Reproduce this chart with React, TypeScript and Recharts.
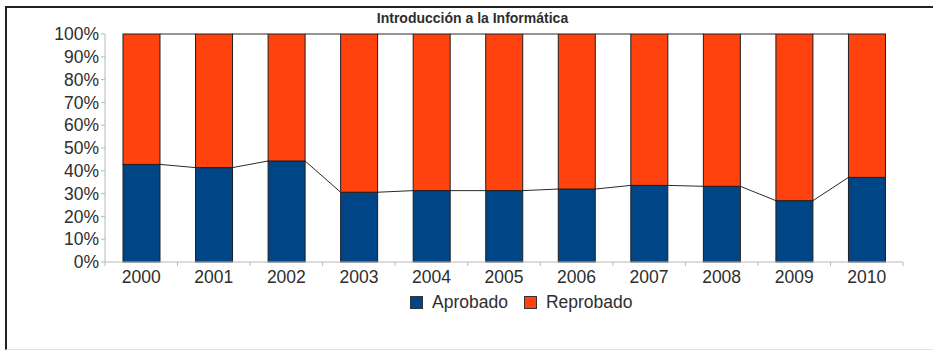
import { BarChart, Bar, XAxis, YAxis, Legend } from "recharts";

const years = ["2000", "2001", "2002", "2003", "2004", "2005", "2006", "2007", "2008", "2009", "2010"];
const aprobado = [42.8, 41.4, 44.3, 30.6, 31.3, 31.3, 32.0, 33.6, 33.2, 26.9, 37.1];
const reprobado = [57.2, 58.6, 55.7, 69.4, 68.7, 68.7, 68.0, 66.4, 66.8, 73.1, 62.9];
const yTicks = [0, 10, 20, 30, 40, 50, 60, 70, 80, 90, 100];

const TITLE = "Introducción a la Informática";
const BLUE = "#004586";
const ORANGE = "#ff420e";
const TEXT = "#2e2e2e";
const AXIS = "#b8b8b8";
const FONT = "'Liberation Sans', Arial, sans-serif";

const WIDTH = 933;
const HEIGHT = 351;
const MARGIN = { top: 34, right: 30, bottom: 59, left: 0 };
const Y_AXIS_W = 105;
const PLOT_W = WIDTH - MARGIN.left - MARGIN.right - Y_AXIS_W;
const STEP = PLOT_W / years.length;

const data = years.map((year, i) => ({
  year,
  aprobado: aprobado[i],
  reprobado: reprobado[i],
}));

type Key = "aprobado" | "reprobado";

// top of the stack for a series at a given index
const stackTop = (key: Key, i: number) =>
  key === "aprobado" ? aprobado[i] : aprobado[i] + reprobado[i];

// bar with a connection line to the next bar's top (like LibreOffice)
const makeShape = (key: Key) => (props: any) => {
  const { x, y, width, height, index, fill } = props;
  const value = key === "aprobado" ? aprobado[index] : reprobado[index];
  const pxPerUnit = value > 0 ? height / value : 0;
  const hasNext = index < years.length - 1;
  const yNext = hasNext ? y + (stackTop(key, index) - stackTop(key, index + 1)) * pxPerUnit : y;
  return (
    <g>
      <rect x={x} y={y} width={width} height={height} fill={fill} stroke="#1e1e1e" strokeWidth={1} />
      {hasNext && (
        <line x1={x + width} y1={y} x2={x + STEP} y2={yNext} stroke="#2a2a2a" strokeWidth={1} />
      )}
    </g>
  );
};

const XTick = (props: any) => {
  const { x, y, payload, index } = props;
  const axisY = y - 8;
  return (
    <g>
      <line x1={x - STEP / 2} y1={axisY} x2={x - STEP / 2} y2={axisY + 4} stroke={AXIS} />
      {index === years.length - 1 && (
        <line x1={x + STEP / 2} y1={axisY} x2={x + STEP / 2} y2={axisY + 4} stroke={AXIS} />
      )}
      <text x={x} y={y + 13} textAnchor="middle" fill={TEXT} fontSize={17.5} fontFamily={FONT}>
        {payload.value}
      </text>
    </g>
  );
};

const legendItems = [
  { name: "Aprobado", color: BLUE },
  { name: "Reprobado", color: ORANGE },
];

const renderLegend = () => (
  <div style={{ display: "flex", alignItems: "center", fontFamily: FONT, fontSize: 17.5, color: TEXT, lineHeight: "20px" }}>
    {legendItems.map((item, i) => (
      <div key={item.name} style={{ display: "flex", alignItems: "center", marginRight: i === 0 ? 16 : 0 }}>
        <span
          style={{
            display: "inline-block",
            width: 13,
            height: 13,
            boxSizing: "border-box",
            background: item.color,
            border: "1px solid #333",
            marginRight: 9,
          }}
        />
        <span>{item.name}</span>
      </div>
    ))}
  </div>
);

export default function App() {
  return (
    <div style={{ position: "fixed", top: 0, left: 0, width: WIDTH, height: HEIGHT, background: "#fff", overflow: "hidden" }}>
      <div
        style={{
          position: "absolute",
          left: 5,
          top: 6,
          width: WIDTH,
          height: 344,
          boxSizing: "border-box",
          borderTop: "2px solid #222",
          borderLeft: "2px solid #222",
          borderBottom: "1px solid #e0e0e0",
        }}
      />
      <div style={{ position: "absolute", left: 0, top: 0 }}>
        <BarChart width={WIDTH} height={HEIGHT} data={data} margin={MARGIN} barSize={37}>
          <XAxis
            dataKey="year"
            interval={0}
            height={30}
            tickSize={4}
            tickMargin={4}
            tickLine={false}
            axisLine={{ stroke: AXIS }}
            tick={<XTick />}
          />
          <XAxis xAxisId="top" orientation="top" height={0} tick={false} tickLine={false} axisLine={{ stroke: AXIS }} />
          <YAxis
            width={Y_AXIS_W}
            domain={[0, 100]}
            ticks={yTicks}
            interval={0}
            tickSize={4}
            tickMargin={2}
            tickFormatter={(v: number) => `${v}%`}
            tick={{ fill: TEXT, fontSize: 17.5, fontFamily: FONT }}
            tickLine={{ stroke: AXIS }}
            axisLine={{ stroke: AXIS }}
          />
          <YAxis yAxisId="right" orientation="right" width={0} domain={[0, 100]} tick={false} tickLine={false} axisLine={{ stroke: AXIS }} />
          <Legend
            verticalAlign="middle"
            align="center"
            layout="horizontal"
            wrapperStyle={{ top: 292, left: 410 }}
            content={renderLegend}
          />
          <Bar dataKey="aprobado" name="Aprobado" stackId="a" fill={BLUE} shape={makeShape("aprobado")} isAnimationActive={false} />
          <Bar dataKey="reprobado" name="Reprobado" stackId="a" fill={ORANGE} shape={makeShape("reprobado")} isAnimationActive={false} />
        </BarChart>
      </div>
      <div
        style={{
          position: "absolute",
          top: 10,
          left: 6,
          width: WIDTH,
          textAlign: "center",
          fontFamily: FONT,
          fontWeight: "bold",
          fontSize: 14,
          color: TEXT,
        }}
      >
        {TITLE}
      </div>
    </div>
  );
}
